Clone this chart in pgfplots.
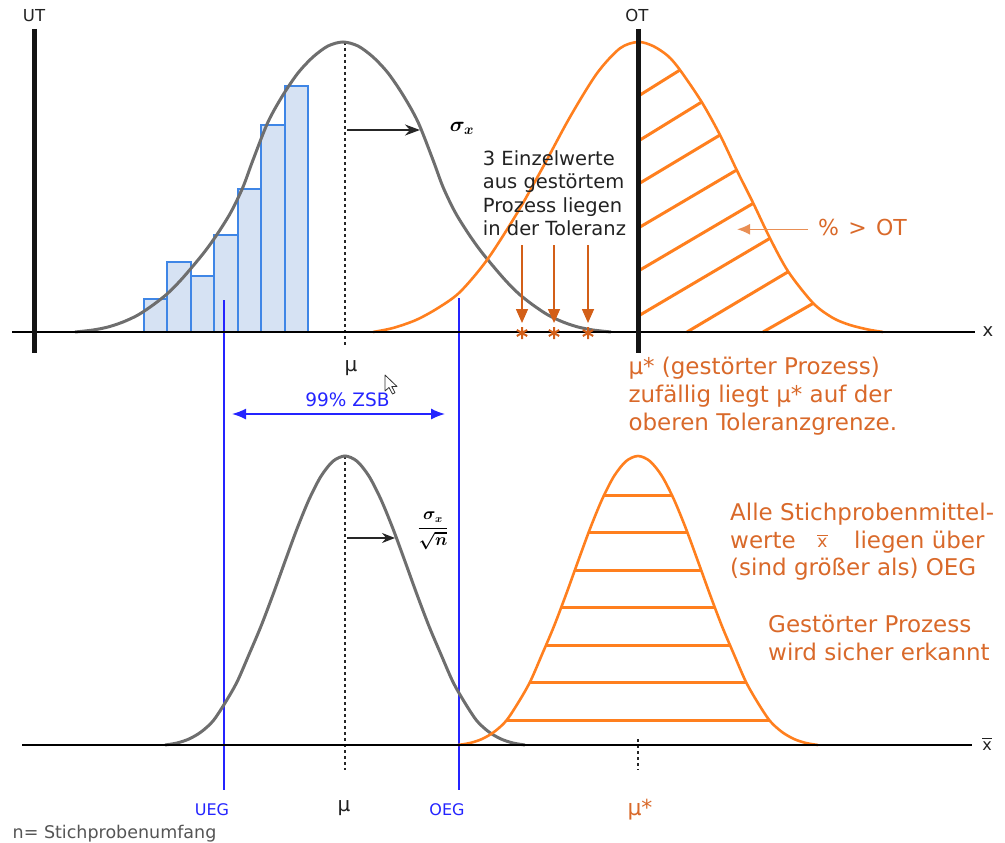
\documentclass[border=0pt]{standalone}
\usepackage{pgfplots}
\pgfplotsset{compat=1.18}
\usepackage{amsmath}
\usepackage{fontspec}
\setmainfont{DejaVu Sans}
\usetikzlibrary{arrows.meta}

\definecolor{curvegray}{HTML}{6E6E6E}
\definecolor{dist}{HTML}{FF7F1E}
\definecolor{txtorange}{HTML}{D9692A}
\definecolor{arrorange}{HTML}{D35F18}
\definecolor{lightorange}{HTML}{E98F55}
\definecolor{histfill}{HTML}{D6E2F3}
\definecolor{histedge}{HTML}{3F86E6}
\definecolor{limblue}{HTML}{2424FF}
\definecolor{notegray}{HTML}{555555}
\definecolor{txtdark}{HTML}{222222}

\newcommand\fs[2]{\fontsize{#1}{#2}\selectfont}

\begin{document}
\begin{tikzpicture}
\begin{axis}[
  scale only axis, width=1005pt, height=843pt,
  xmin=0, xmax=1005, ymin=0, ymax=843, y dir=reverse,
  axis lines=none, clip=false,
]
\path (axis cs:0,0) rectangle (axis cs:1005,843);
% histogram of the undisturbed process
\addplot[fill=histfill, draw=histedge, line width=2pt] coordinates {(144,332)(144,299.3)(167.3,299.3)(167.3,332)(144,332)};
\addplot[fill=histfill, draw=histedge, line width=2pt] coordinates {(167.3,332)(167.3,262.3)(191,262.3)(191,332)(167.3,332)};
\addplot[fill=histfill, draw=histedge, line width=2pt] coordinates {(191,332)(191,276)(214.3,276)(214.3,332)(191,332)};
\addplot[fill=histfill, draw=histedge, line width=2pt] coordinates {(214.3,332)(214.3,235)(238,235)(238,332)(214.3,332)};
\addplot[fill=histfill, draw=histedge, line width=2pt] coordinates {(238,332)(238,188.7)(261.3,188.7)(261.3,332)(238,332)};
\addplot[fill=histfill, draw=histedge, line width=2pt] coordinates {(261.3,332)(261.3,125)(285,125)(285,332)(261.3,332)};
\addplot[fill=histfill, draw=histedge, line width=2pt] coordinates {(285,332)(285,85.7)(308.3,85.7)(308.3,332)(285,332)};
% control limits (UEG, OEG)
\addplot[limblue, line width=1.8pt] coordinates {(224,300)(224,790)};
\addplot[limblue, line width=1.8pt] coordinates {(459,298)(459,790)};
% mean line
\addplot[black!85, line width=2pt, dash pattern=on 3pt off 3pt] coordinates {(345,42)(345,345)};
% undisturbed process (single values)
\addplot[curvegray, line width=3pt, smooth] coordinates {
(75,332)(93,330)(108,327)(123,322)(138,315)(153,305)(167,294)(180,281)(193,266)
(206,250)(218,233)(231,212)(243,187)(253,160)(268,122)(283,95)(298,73)(313,57)
(328,46)(343,42)(358,46)(373,57)(388,73)(403,95)(418,122)(433,160)(443,187)
(455,212)(468,233)(480,250)(493,266)(506,281)(519,294)(533,305)(548,315)(563,322)
(578,327)(593,330)(611,332)};
% disturbed process (single values)
\addplot[dist, line width=2.6pt, smooth] coordinates {
(373,332)(393,328)(416,320)(438,308)(460,292)(487,260)(517,213.3)(543,167)(570,117)
(597,73.3)(620,48.3)(638,42)(653,46)(668,56)(680,70)(701.7,102)(720,135)(736.7,170)
(753.3,203.3)(770,238.3)(788.3,271.7)(813.3,303.3)(833,318)(850,325)(868,329.5)(883,332)};
% hatching of the share above OT
\addplot[dist, line width=3pt] coordinates {(640,95)(680,70)};
\addplot[dist, line width=3pt] coordinates {(640,140)(701.7,102)};
\addplot[dist, line width=3pt] coordinates {(640,183)(720,135)};
\addplot[dist, line width=3pt] coordinates {(640,227)(736.7,170)};
\addplot[dist, line width=3pt] coordinates {(640,270)(753.3,203.3)};
\addplot[dist, line width=3pt] coordinates {(640,315)(770,238.3)};
\addplot[dist, line width=3pt] coordinates {(687,332)(788.3,271.7)};
\addplot[dist, line width=3pt] coordinates {(763,332)(813.3,303.3)};
% x axis and tolerance limits UT, OT
\addplot[black, line width=2pt] coordinates {(12,332)(975,332)};
\addplot[black!92, line width=5pt] coordinates {(34,29)(34,353)};
\addplot[black!92, line width=5pt] coordinates {(638,29)(638,353)};
% single values of the disturbed process
\addplot[only marks, mark=asterisk, mark size=6pt, arrorange, line width=2pt] coordinates {(522,333)(554,333)(588,333)};
% lower panel: sample means
\addplot[black!85, line width=2pt, dash pattern=on 3pt off 3pt] coordinates {(345,456)(345,770)};
\addplot[black!85, line width=2pt, dash pattern=on 3pt off 3pt] coordinates {(638,739)(638,770)};
\addplot[curvegray, line width=3pt, smooth] coordinates {
(165,745)(177,743)(189,739)(201,732)(213,721)(225,703)(237,682)(249,654.5)(261,626.2)
(273,594.6)(285,561.4)(297,528.8)(309,499.6)(321,476.2)(333,461.2)(345,456)(357,461.2)
(369,476.2)(381,499.6)(393,528.8)(405,561.4)(417,594.6)(429,626.2)(441,654.5)(453,682)
(465,703)(477,721)(489,732)(501,739)(513,743)(525,745)};
\addplot[dist, line width=2.6pt, smooth] coordinates {
(458,745)(470,743)(482,739)(494,732)(506,721)(518,703)(530,682)(542,654.5)(554,626.2)
(566,594.6)(578,561.4)(590,528.8)(602,499.6)(614,476.2)(626,461.2)(638,456)(650,461.2)
(662,476.2)(674,499.6)(686,528.8)(698,561.4)(710,594.6)(722,626.2)(734,654.5)(746,682)
(758,703)(770,721)(782,732)(794,739)(806,743)(818,745)};
\addplot[dist, line width=3pt] coordinates {(604.4,495)(671.6,495)};
\addplot[dist, line width=3pt] coordinates {(588.6,532.7)(687.4,532.7)};
\addplot[dist, line width=3pt] coordinates {(574.9,570)(701.1,570)};
\addplot[dist, line width=3pt] coordinates {(561.1,607.7)(714.9,607.7)};
\addplot[dist, line width=3pt] coordinates {(546,645)(730,645)};
\addplot[dist, line width=3pt] coordinates {(529.8,682.3)(746.2,682.3)};
\addplot[dist, line width=3pt] coordinates {(506.7,720)(769.3,720)};
\addplot[black, line width=2pt] coordinates {(22,745)(972,745)};

% ---- annotations ----
\draw[arrorange, line width=1.6pt, -{Triangle[length=14pt,width=12pt]}] (axis cs:522,245) -- (axis cs:522,323);
\draw[arrorange, line width=1.6pt, -{Triangle[length=14pt,width=12pt]}] (axis cs:554,245) -- (axis cs:554,323);
\draw[arrorange, line width=1.6pt, -{Triangle[length=14pt,width=12pt]}] (axis cs:588,245) -- (axis cs:588,323);
\draw[black!85, line width=1.6pt, -{Stealth[length=15pt,width=11pt]}] (axis cs:347,130) -- (axis cs:420,130);
\node[anchor=center, inner sep=0] at (axis cs:462,128) {\fs{22}{26}{\boldmath$\sigma_x$}};
\node[anchor=base, inner sep=0, txtdark] at (axis cs:34,21.7) {\fs{16.5}{19}UT};
\node[anchor=base, inner sep=0, txtdark] at (axis cs:637,21.7) {\fs{16.5}{19}OT};
\node[anchor=base, inner sep=0, txtdark] at (axis cs:988,336.7) {\fs{18}{20}x};
\node[anchor=base, inner sep=0, txtdark] at (axis cs:351,371.5) {\fs{20}{24}μ};
\node[anchor=base west, inner sep=0, txtdark] at (axis cs:482.7,165.7) {\fs{19.5}{23}3 Einzelwerte};
\node[anchor=base west, inner sep=0, txtdark] at (axis cs:482.7,188.3) {\fs{19.5}{23}aus gestörtem};
\node[anchor=base west, inner sep=0, txtdark] at (axis cs:482.7,212.3) {\fs{19.5}{23}Prozess liegen};
\node[anchor=base west, inner sep=0, txtdark] at (axis cs:482.7,235) {\fs{19.5}{23}in der Toleranz};
\draw[lightorange, line width=1.6pt, -{Latex[length=13pt,width=11pt]}] (axis cs:808,229.3) -- (axis cs:737,229.3);
\node[anchor=base west, inner sep=0, txtorange] at (axis cs:818,235) {\fs{22}{26}\%\hspace{0.42em}>\hspace{0.42em}OT};
\node[anchor=base west, inner sep=0, txtorange] at (axis cs:628.3,374.3) {\fs{23}{28}μ* (gestörter Prozess)};
\node[anchor=base west, inner sep=0, txtorange] at (axis cs:628.3,402.7) {\fs{23}{28}zufällig liegt μ* auf der};
\node[anchor=base west, inner sep=0, txtorange] at (axis cs:628.3,430) {\fs{23}{28}oberen Toleranzgrenze.};
\draw[limblue, line width=1.5pt, {Latex[length=14pt,width=11pt]}-{Latex[length=14pt,width=11pt]}] (axis cs:232,414) -- (axis cs:445,414);
\node[anchor=base, inner sep=0, limblue] at (axis cs:347.5,406.7) {\fs{18.5}{22}99\% ZSB};
\draw[black!80, fill=white, line width=0.8pt, line join=round] (axis cs:385,375) -- (axis cs:385,391) -- (axis cs:389,387.5) -- (axis cs:392.5,394) -- (axis cs:395,392.8) -- (axis cs:391.8,386.5) -- (axis cs:397,386.5) -- cycle;
\draw[black!85, line width=1.6pt, -{Stealth[length=13pt,width=10pt]}] (axis cs:347,538) -- (axis cs:395,538);
\node[anchor=center, inner sep=0] at (axis cs:433,531) {\fs{16}{19}{\boldmath$\displaystyle\frac{\sigma_x}{\sqrt{n}}$}};
\node[anchor=base, inner sep=0, txtdark] at (axis cs:987,750) {\fs{16}{18}$\overline{\text{x}}$};
\node[anchor=base, inner sep=0, limblue] at (axis cs:212,815) {\fs{16}{19}UEG};
\node[anchor=base, inner sep=0, limblue] at (axis cs:447,815) {\fs{16}{19}OEG};
\node[anchor=base, inner sep=0, txtdark] at (axis cs:344,811) {\fs{20}{24}μ};
\node[anchor=base, inner sep=0, txtorange] at (axis cs:640,815) {\fs{22}{26}μ*};
\node[anchor=base west, inner sep=0, txtorange] at (axis cs:730,520) {\fs{23}{28}Alle Stichprobenmittel-};
\node[anchor=base west, inner sep=0, txtorange] at (axis cs:730,548.3) {\fs{23}{28}werte};
\node[anchor=base, inner sep=0, txtorange] at (axis cs:822.5,547) {\fs{17}{20}$\overline{\text{x}}$};
\node[anchor=base west, inner sep=0, txtorange] at (axis cs:854,548.3) {\fs{23}{28}liegen über};
\node[anchor=base west, inner sep=0, txtorange] at (axis cs:730,575.7) {\fs{23}{28}(sind größer als) OEG};
\node[anchor=base west, inner sep=0, txtorange] at (axis cs:768,632.7) {\fs{23}{28}Gestörter Prozess};
\node[anchor=base west, inner sep=0, txtorange] at (axis cs:768,660) {\fs{23}{28}wird sicher erkannt};
\node[anchor=base west, inner sep=0, notegray] at (axis cs:12.5,838) {\fs{17.5}{20}n= Stichprobenumfang};
\end{axis}
\end{tikzpicture}
\end{document}
